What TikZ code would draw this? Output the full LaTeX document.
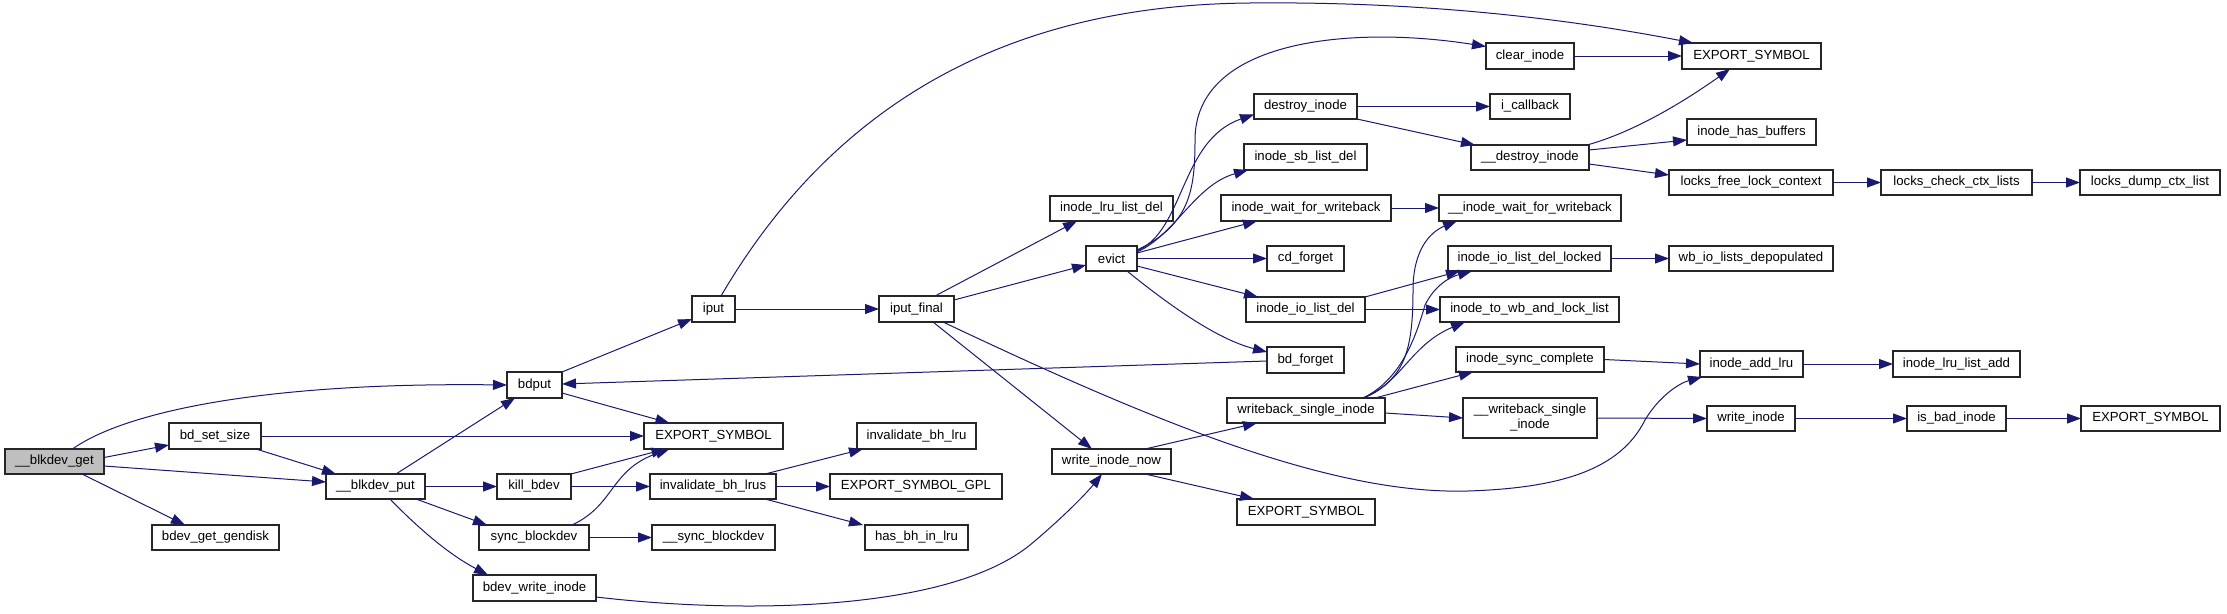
\documentclass[tikz,border=0pt]{standalone}
\usepackage{fontspec}
\setmainfont{Liberation Sans}
\usetikzlibrary{arrows.meta}
\definecolor{edgeblue}{RGB}{25,25,112}
\begin{document}
\begin{tikzpicture}[
  x=1pt,y=-1pt,
  fn/.style={draw=black!85,line width=1.5pt,fill=white,inner sep=0pt,outer sep=0pt,
    align=center,font=\fontsize{13.2}{15}\selectfont},
  call/.style={draw=edgeblue,line width=1pt,-{Triangle[length=14pt,width=10pt]}}]
  \useasboundingbox (0,0) rectangle (2227,613);

  \node[fn,fill=black!25,minimum width=99pt,minimum height=25pt]
    (blkdevget) at (54.5,461.5) {\_\_blkdev\_get};
  \foreach \id/\xa/\ya/\xb/\yb/\txt in {
    bdsetsize/169/423/261/449/bd\_set\_size,
    bdevgetgendisk/152/525/279/550/bdev\_get\_gendisk,
    blkdevput/326/474/425/499/\_\_blkdev\_put,
    bdput/507/372/562/398/bdput,
    killbdev/497/474/571/499/kill\_bdev,
    syncblockdev/479/525/589/550/sync\_blockdev,
    bdevwriteinode/473/575/596/601/bdev\_write\_inode,
    iput/692/296/735/322/iput,
    esA/644/423/783/449/EXPORT\_SYMBOL,
    invbhlrus/650/474/776/499/invalidate\_bh\_lrus,
    syncblockdevB/652/525/775/550/\_\_sync\_blockdev,
    iputfinal/879/296/954/322/iput\_final,
    invbhlru/857/423/976/449/invalidate\_bh\_lru,
    esgpl/830/474/1002/499/EXPORT\_SYMBOL\_GPL,
    hasbh/865/525/968/550/has\_bh\_in\_lru,
    lrulistdel/1050/196/1173/221/inode\_lru\_list\_del,
    evict/1086/246/1137/271/evict,
    writeinodenow/1052/449/1171/474/write\_inode\_now,
    destroyinode/1254/94/1357/119/destroy\_inode,
    sblistdel/1244/144/1367/170/inode\_sb\_list\_del,
    waitwb/1221/195/1391/221/inode\_wait\_for\_writeback,
    cdforget/1267/246/1344/271/cd\_forget,
    iolistdel/1246/297/1365/322/inode\_io\_list\_del,
    bdforget/1267/347/1344/373/bd\_forget,
    wbsingle/1227/398/1385/423/writeback\_single\_inode,
    esC/1237/499/1375/525/EXPORT\_SYMBOL,
    clearinode/1486/43/1574/69/clear\_inode,
    icallback/1490/94/1570/119/i\_callback,
    destroyinodeB/1471/145/1589/170/\_\_destroy\_inode,
    waitwbB/1439/195/1621/221/\_\_inode\_wait\_for\_writeback,
    iolistdellocked/1448/246/1611/271/inode\_io\_list\_del\_locked,
    towb/1440/297/1619/322/inode\_to\_wb\_and\_lock\_list,
    synccomplete/1456/347/1604/372/inode\_sync\_complete,
    esB/1682/43/1821/69/EXPORT\_SYMBOL,
    hasbuffers/1687/119/1816/145/inode\_has\_buffers,
    locksfree/1669/170/1833/195/locks\_free\_lock\_context,
    wbdepop/1669/246/1833/271/wb\_io\_lists\_depopulated,
    addlru/1700/351/1803/377/inode\_add\_lru,
    writeinode/1707/406/1795/431/write\_inode,
    lockscheck/1881/170/2032/195/locks\_check\_ctx\_lists,
    lrulistadd/1893/351/2020/377/inode\_lru\_list\_add,
    isbad/1907/406/2006/431/is\_bad\_inode,
    lockdump/2080/170/2220/195/locks\_dump\_ctx\_list,
    esD/2081/406/2220/431/EXPORT\_SYMBOL}
  {
    \node[fn,minimum width={(\xb-\xa)*1pt},minimum height={(\yb-\ya)*1pt}]
      (\id) at ({(\xa+\xb)/2},{(\ya+\yb)/2}) {\txt};
  }
  \node[fn,minimum width=134pt,minimum height=40pt]
    (wbsingleB) at (1530,418) {\_\_writeback\_single\\\_inode};

  % straight calls
  \foreach \a/\b in {bdsetsize/esA,blkdevput/killbdev,iput/iputfinal,
    killbdev/invbhlrus,invbhlrus/esgpl,syncblockdev/syncblockdevB,
    evict/cdforget,destroyinode/icallback,clearinode/esB,waitwb/waitwbB,
    iolistdel/towb,iolistdellocked/wbdepop,locksfree/lockscheck,
    lockscheck/lockdump,synccomplete/addlru,addlru/lrulistadd,
    wbsingleB/writeinode,writeinode/isbad,isbad/esD}
    \draw[call] (\a.east) -- (\b.west);

  \draw[call] ([xshift=18pt]blkdevget.north) .. controls (120,415) and (250,382) .. (bdput.west);
  \draw[call] ([yshift=4pt]blkdevget.east) -- ([yshift=-9pt]bdsetsize.west);
  \draw[call] ([yshift=-4.5pt]blkdevget.east) -- ([yshift=4.5pt]blkdevput.west);
  \draw[call] ([xshift=27.5pt]blkdevget.south) -- ([xshift=-30.5pt]bdevgetgendisk.north);
  \draw[call] ([xshift=41pt]bdsetsize.south) -- ([xshift=-39.5pt]blkdevput.north);
  \draw[call] ([xshift=20.5pt]blkdevput.north) -- ([xshift=-19.5pt]bdput.south);
  \draw[call] ([xshift=40.5pt]blkdevput.south) -- ([xshift=-47pt]syncblockdev.north);
  \draw[call] ([xshift=14.5pt]blkdevput.south) .. controls (420,530) and (450,555)
    .. ([xshift=-46.5pt]bdevwriteinode.north);
  \draw[call] (bdput.north east) -- ([yshift=-10pt]iput.west);
  \draw[call] ([yshift=-8pt]bdput.east) -- ([xshift=-44pt]esA.north);
  \draw[call] (killbdev.north east) -- ([xshift=-48pt]esA.south);
  \draw[call] ([xshift=38pt]syncblockdev.north) .. controls (615,505) and (610,470)
    .. ([xshift=-44pt]esA.south);
  \draw[call] ([xshift=52pt]invbhlrus.north) -- ([xshift=-53.5pt]invbhlru.south);
  \draw[call] ([xshift=52pt]invbhlrus.south) -- ([xshift=-53.5pt]hasbh.north);
  \draw[call] ([yshift=-9pt]bdevwriteinode.east) .. controls (750,615) and (950,610)
    .. (1030,545) .. controls (1060,520) and (1085,495) .. ([xshift=-9.5pt]writeinodenow.south);

  % iput and iput_final
  \draw[call] ([xshift=7.5pt]iput.north) .. controls (830,110) and (1000,5) .. (1250,3)
    .. controls (1450,1) and (1600,25) .. ([xshift=11pt]esB.north west);
  \draw[call] ([xshift=18.5pt]iputfinal.north) -- ([xshift=-34.5pt]lrulistdel.south);
  \draw[call] ([yshift=9pt]iputfinal.east) -- ([yshift=-6.5pt]evict.west);
  \draw[call] ([xshift=16.5pt]iputfinal.south) -- ([xshift=-19.5pt]writeinodenow.north);
  \draw[call] ([xshift=26.5pt]iputfinal.south) .. controls (1150,420) and (1330,495) .. (1468,491)
    .. controls (1560,488) and (1620,470) .. (1645,420)
    .. controls (1660,395) and (1680,383) .. ([xshift=2pt]addlru.south west);

  % evict
  \draw[call] ([yshift=8.5pt]evict.east) .. controls (1190,225) and (1195,190) .. (1195,140)
    .. controls (1195,40) and (1350,25) .. ([yshift=9.5pt]clearinode.west);
  \draw[call] ([yshift=7.5pt]evict.east) .. controls (1185,230) and (1180,140)
    .. ([yshift=-8pt]destroyinode.west);
  \draw[call] ([yshift=6.5pt]evict.east) .. controls (1175,235) and (1195,185)
    .. ([xshift=4pt]sblistdel.south west);
  \draw[call] ([yshift=5.5pt]evict.east) -- ([xshift=-49pt]waitwb.south);
  \draw[call] ([yshift=-7.5pt]evict.east) -- ([xshift=-47.5pt]iolistdel.north);
  \draw[call] ([xshift=15.5pt]evict.south) .. controls (1175,310) and (1220,340)
    .. ([yshift=8pt]bdforget.west);
  \draw[call] ([yshift=-1pt]bdforget.west) -- ([yshift=1pt]bdput.east);

  % destroy_inode
  \draw[call] (destroyinode.south east) -- ([xshift=4pt]destroyinodeB.north west);
  \draw[call] ([xshift=-2pt]destroyinodeB.north east) .. controls (1620,136) and (1665,115)
    .. ([xshift=-21.5pt]esB.south);
  \draw[call] ([yshift=7.5pt]destroyinodeB.east) -- ([yshift=-8pt]hasbuffers.west);
  \draw[call] ([yshift=-6.5pt]destroyinodeB.east) -- ([yshift=7.5pt]locksfree.west);
  \draw[call] (iolistdel.north east) -- ([xshift=12pt]iolistdellocked.south west);

  % writeback
  \draw[call] ([xshift=33.5pt]writeinodenow.north) -- ([xshift=-49pt]wbsingle.south);
  \draw[call] ([xshift=33.5pt]writeinodenow.south) -- ([xshift=-52pt]esC.north);
  \draw[call] ([xshift=57pt]wbsingle.north) .. controls (1405,380) and (1413,350) .. (1413,290)
    .. controls (1413,250) and (1430,232) .. ([xshift=18pt]waitwbB.south west);
  \draw[call] ([xshift=57pt]wbsingle.north) .. controls (1400,380) and (1415,340) .. (1425,305)
    .. controls (1435,285) and (1450,277) .. ([xshift=24pt]iolistdellocked.south west);
  \draw[call] ([xshift=57pt]wbsingle.north) .. controls (1400,385) and (1410,345)
    .. ([xshift=25pt]towb.south west);
  \draw[call] ([xshift=-10pt]wbsingle.north east) -- ([xshift=17pt]synccomplete.south west);
  \draw[call] ([yshift=-2.5pt]wbsingle.east) -- (wbsingleB.west);
\end{tikzpicture}
\end{document}
